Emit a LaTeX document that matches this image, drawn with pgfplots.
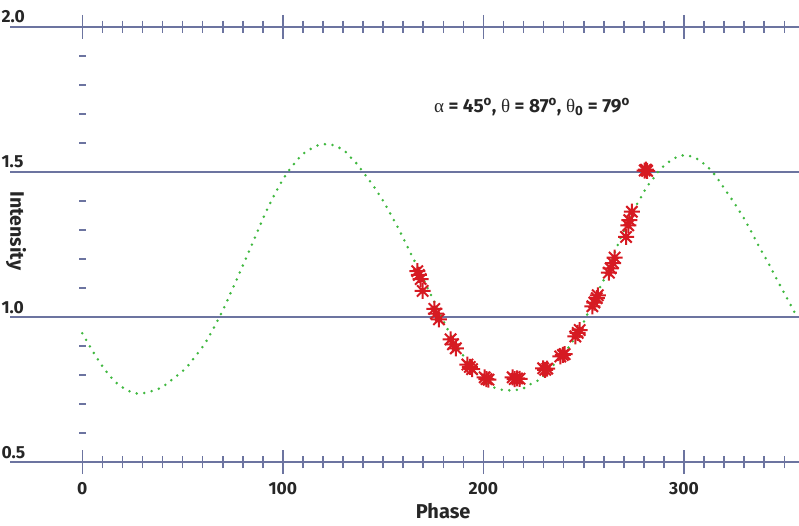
\documentclass[border=0pt]{standalone}
\usepackage{fontspec}
\setmainfont{Fira Sans}
\newfontfamily\grk{Liberation Serif}
\usepackage{pgfplots}
\pgfplotsset{compat=1.18}
\definecolor{axiscol}{RGB}{108,116,160}
\definecolor{curvecol}{RGB}{64,184,64}
\definecolor{starcol}{RGB}{214,26,34}
\pgfdeclareplotmark{ast8}{%
  \pgfpathmoveto{\pgfqpoint{-\pgfplotmarksize}{0pt}}\pgfpathlineto{\pgfqpoint{\pgfplotmarksize}{0pt}}%
  \pgfpathmoveto{\pgfqpoint{0pt}{-\pgfplotmarksize}}\pgfpathlineto{\pgfqpoint{0pt}{\pgfplotmarksize}}%
  \pgfpathmoveto{\pgfqpoint{-0.707\pgfplotmarksize}{-0.707\pgfplotmarksize}}\pgfpathlineto{\pgfqpoint{0.707\pgfplotmarksize}{0.707\pgfplotmarksize}}%
  \pgfpathmoveto{\pgfqpoint{-0.707\pgfplotmarksize}{0.707\pgfplotmarksize}}\pgfpathlineto{\pgfqpoint{0.707\pgfplotmarksize}{-0.707\pgfplotmarksize}}%
  \pgfusepathqstroke}
\pgfplotstableread{
x y
0 0.944
4 0.896
8 0.851
12.5 0.807
17.8 0.768
24.4 0.741
28.1 0.736
31.9 0.739
39.2 0.756
45.6 0.789
51.4 0.822
56.2 0.863
60.8 0.905
64.7 0.952
68.3 0.999
71.6 1.046
74.8 1.096
78.0 1.145
81.0 1.193
84.1 1.242
87.1 1.291
90.1 1.340
93.4 1.389
96.9 1.436
100.7 1.482
105.2 1.525
110.5 1.565
117.2 1.591
121.0 1.596
124.8 1.593
128.3 1.583
131.5 1.568
134.1 1.548
136.8 1.529
139.1 1.508
141.4 1.487
145.9 1.444
150.1 1.399
153.9 1.352
157.6 1.305
161.0 1.258
164.5 1.209
168.0 1.160
171.2 1.114
174.5 1.066
178.0 1.017
181.3 0.969
183.0 0.946
188.8 0.878
191.2 0.854
198.4 0.791
204.1 0.761
207.8 0.751
211.6 0.747
215.4 0.748
219.4 0.752
222.6 0.765
225.9 0.778
229.2 0.792
242.0 0.891
249.8 0.980
251.5 1.005
258.1 1.102
259.8 1.125
268.4 1.273
270.1 1.297
276.9 1.394
278.9 1.417
280.7 1.440
283.0 1.463
285.4 1.484
287.5 1.505
290.5 1.524
293.5 1.540
296.9 1.553
300.6 1.558
304.3 1.552
307.6 1.541
310.8 1.523
313.6 1.505
316.0 1.484
318.3 1.462
320.4 1.440
322.6 1.418
324.8 1.396
326.9 1.373
328.9 1.351
330.9 1.328
334.6 1.280
338.2 1.233
342.0 1.187
345.5 1.140
349.2 1.092
352.8 1.046
356.5 0.999
}\modeldata
\pgfplotstableread{
x y
167.0 1.158
167.8 1.145
168.7 1.131
169.7 1.090
175.5 1.028
176.3 1.012
177.8 0.992
183.6 0.923
184.8 0.906
186.2 0.892
192.0 0.836
193.2 0.828
194.3 0.820
200.6 0.792
201.5 0.786
202.5 0.784
214.6 0.792
215.6 0.786
216.8 0.788
218.0 0.787
229.8 0.823
230.8 0.818
231.8 0.822
238.3 0.864
239.6 0.869
240.5 0.872
245.8 0.933
247.0 0.945
248.0 0.955
254.3 1.037
255.3 1.050
256.5 1.065
257.0 1.075
262.5 1.153
263.4 1.168
264.6 1.186
265.4 1.205
271.1 1.276
272.2 1.316
272.7 1.334
274.0 1.363
280.4 1.505
281.0 1.508
281.6 1.504
}\obsdata
\begin{document}
\begin{tikzpicture}
\begin{axis}[
  at={(10pt,63pt)}, anchor=south west,
  scale only axis, width=789pt, height=435pt,
  xmin=-36.05, xmax=357.33, ymin=0.5, ymax=2.0,
  separate axis lines,
  x axis line style={axiscol, line width=2pt},
  y axis line style={draw=none},
  xtick={0,100,200,300},
  xticklabels={0,100,200,300},
  minor xtick={10,20,...,90,110,120,...,190,210,220,...,290,310,320,...,350},
  tick align=center,
  major tick length=24pt,
  minor tick length=12.6pt,
  xtick style={axiscol, line width=1.6pt},
  ytick={0.5,1,1.5,2},
  yticklabels={0.5,1.0,1.5,2.0},
  ytick style={draw=none},
  ymajorgrids,
  grid style={axiscol, line width=2pt},
  tick label style={font=\fontsize{17.5}{17.5}\selectfont\bfseries, text=black!85},
  xticklabel style={anchor=base, yshift=-20pt},
  yticklabel style={anchor=base west, xshift=0pt, yshift=4pt},
  xlabel={Phase},
  xlabel style={at={(axis description cs:0.549,-0.130)}, anchor=base, font=\fontsize{20}{20}\selectfont\bfseries, text=black!85},
  ylabel={Intensity},
  ylabel style={at={(axis description cs:0.0076,0.531)}, anchor=center, rotate=180, font=\fontsize{19.5}{19.5}\selectfont\bfseries, text=black!85},
  clip=false,
]
\pgfplotsinvokeforeach{0.6,0.7,0.8,0.9,1.1,1.2,1.3,1.4,1.6,1.7,1.8,1.9}{
  \draw[axiscol, line width=2pt] (axis cs:-1.6,#1) -- (axis cs:1.6,#1);
}
\addplot[curvecol, line width=2.8pt, dash pattern=on 0pt off 7.6pt, line cap=round, smooth] table {\modeldata};
\addplot[only marks, mark=ast8, mark size=8pt, starcol, mark options={line width=2pt}] table {\obsdata};
\node[font=\fontsize{19}{19}\selectfont\bfseries, text=black!85] at (axis cs:224.2,1.724)
  {{\grk\mdseries α} = 45\textsuperscript{o}, {\grk\mdseries θ} = 87\textsuperscript{o}, {\grk\mdseries θ}\textsubscript{0} = 79\textsuperscript{o}};
\end{axis}
\pgfresetboundingbox
\path[use as bounding box] (0,0) rectangle (799pt,525pt);
\end{tikzpicture}
\end{document}
